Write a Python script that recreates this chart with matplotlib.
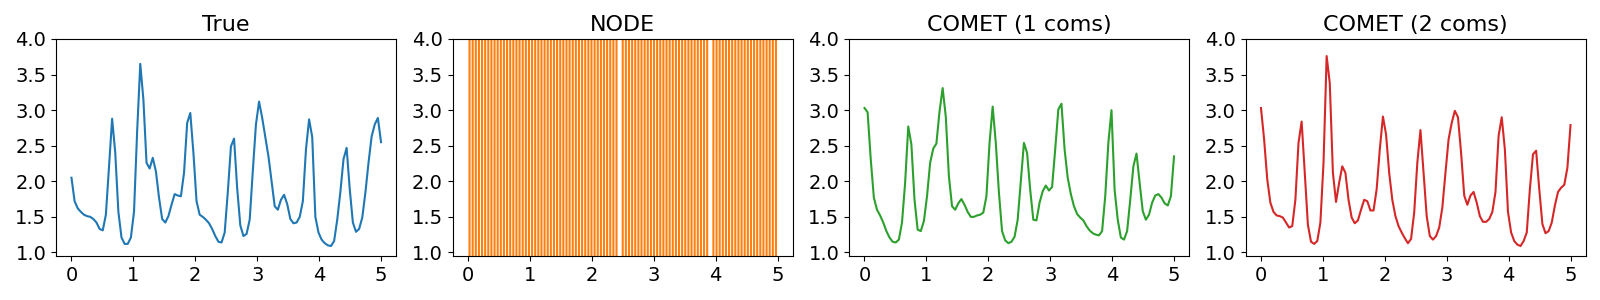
import numpy as np
import matplotlib
matplotlib.use("Agg")
import matplotlib.pyplot as plt

plt.rcParams['font.family'] = ['DejaVu Sans']
plt.rcParams['font.size'] = 14

n_points = 100
t_start, t_end = 0.0, 5.0

titles = ["True", "NODE", "COMET (1 coms)", "COMET (2 coms)"]
colors = ["tab:blue", "tab:orange", "tab:green", "tab:red"]

true_vals = [
    2.05, 1.72, 1.62, 1.57, 1.53, 1.51, 1.50, 1.47, 1.42, 1.33,
    1.31, 1.53, 2.20, 2.88, 2.40, 1.57, 1.21, 1.12, 1.12, 1.21,
    1.57, 2.70, 3.65, 3.15, 2.26, 2.18, 2.33, 2.14, 1.77, 1.47,
    1.42, 1.51, 1.67, 1.82, 1.80, 1.79, 2.12, 2.82, 2.96, 2.40,
    1.72, 1.53, 1.50, 1.46, 1.41, 1.33, 1.23, 1.15, 1.14, 1.28,
    1.85, 2.49, 2.60, 1.90, 1.38, 1.23, 1.26, 1.46, 2.15, 2.80,
    3.12, 2.89, 2.62, 2.35, 2.00, 1.65, 1.60, 1.74, 1.81, 1.68,
    1.47, 1.41, 1.42, 1.50, 1.72, 2.45, 2.87, 2.62, 1.50, 1.28,
    1.18, 1.13, 1.10, 1.09, 1.16, 1.46, 1.85, 2.31, 2.47, 1.89,
    1.42, 1.29, 1.33, 1.49, 1.84, 2.26, 2.63, 2.80, 2.89, 2.55,
]

node_vals = [
    1000, -1000, 1000, -1000, 1000, -1000, 1000, -1000, 1000, -1000,
    1000, -1000, 1000, -1000, 1000, -1000, 1000, -1000, 1000, -1000,
    1000, -1000, 1000, -1000, 1000, -1000, 1000, -1000, 1000, -1000,
    1000, -1000, 1000, -1000, 1000, -1000, 1000, -1000, 1000, -1000,
    1000, -1000, 1000, -1000, 1000, -1000, 1000, -1000, 1000, 1000,
    -1000, 1000, -1000, 1000, -1000, 1000, -1000, 1000, -1000, 1000,
    -1000, 1000, -1000, 1000, -1000, 1000, -1000, 1000, -1000, 1000,
    -1000, 1000, -1000, 1000, -1000, 1000, -1000, 1000, 1000, -1000,
    1000, -1000, 1000, -1000, 1000, -1000, 1000, -1000, 1000, -1000,
    1000, -1000, 1000, -1000, 1000, -1000, 1000, -1000, 1000, -1000,
]

comet1_vals = [
    3.03, 2.97, 2.31, 1.77, 1.60, 1.52, 1.42, 1.30, 1.21, 1.15,
    1.14, 1.18, 1.42, 1.98, 2.77, 2.52, 1.74, 1.32, 1.30, 1.44,
    1.79, 2.26, 2.46, 2.53, 2.98, 3.31, 2.91, 2.07, 1.65, 1.60,
    1.69, 1.75, 1.67, 1.57, 1.50, 1.50, 1.52, 1.53, 1.56, 1.79,
    2.54, 3.05, 2.54, 1.84, 1.30, 1.17, 1.13, 1.15, 1.22, 1.46,
    2.00, 2.54, 2.40, 1.88, 1.46, 1.45, 1.70, 1.86, 1.94, 1.87,
    1.92, 2.45, 3.01, 3.09, 2.45, 2.05, 1.82, 1.65, 1.54, 1.49,
    1.45, 1.37, 1.31, 1.27, 1.25, 1.24, 1.30, 1.79, 2.54, 3.00,
    1.88, 1.46, 1.21, 1.18, 1.30, 1.74, 2.21, 2.39, 1.98, 1.58,
    1.46, 1.53, 1.70, 1.80, 1.82, 1.77, 1.69, 1.66, 1.79, 2.35,
]

comet2_vals = [
    3.03, 2.59, 2.03, 1.70, 1.57, 1.52, 1.51, 1.49, 1.42, 1.35,
    1.37, 1.74, 2.54, 2.84, 2.12, 1.39, 1.15, 1.12, 1.16, 1.42,
    2.26, 3.76, 3.38, 2.12, 1.71, 1.98, 2.21, 2.12, 1.74, 1.49,
    1.41, 1.45, 1.60, 1.74, 1.72, 1.59, 1.59, 1.89, 2.45, 2.91,
    2.66, 2.12, 1.74, 1.51, 1.37, 1.28, 1.20, 1.13, 1.19, 1.56,
    2.26, 2.72, 2.12, 1.51, 1.23, 1.18, 1.23, 1.35, 1.63, 2.12,
    2.59, 2.82, 2.99, 2.90, 2.40, 1.80, 1.67, 1.80, 1.85, 1.70,
    1.51, 1.43, 1.43, 1.47, 1.57, 1.85, 2.64, 2.90, 2.45, 1.57,
    1.28, 1.16, 1.11, 1.09, 1.16, 1.28, 1.89, 2.38, 2.43, 1.89,
    1.40, 1.27, 1.30, 1.42, 1.66, 1.85, 1.91, 1.95, 2.19, 2.79,
]

series = [true_vals, node_vals, comet1_vals, comet2_vals]
t = np.linspace(t_start, t_end, n_points)

fig, axes = plt.subplots(1, 4, figsize=(16, 3), dpi=100)
fig.subplots_adjust(left=0.035, right=0.99125, bottom=0.1467, top=0.87, wspace=0.1645)

for ax, vals, title, c in zip(axes, series, titles, colors):
    ax.plot(t, vals, color=c, linewidth=1.5)
    ax.set_title(title, fontsize=16)
    ax.set_ylim(0.95, 4.0)
    ax.set_xlim(-0.25, 5.25)
    ax.set_yticks([1.0, 1.5, 2.0, 2.5, 3.0, 3.5, 4.0])
    ax.set_xticks([0, 1, 2, 3, 4, 5])
    ax.tick_params(labelsize=14)

fig.savefig("out.png", dpi=100)
